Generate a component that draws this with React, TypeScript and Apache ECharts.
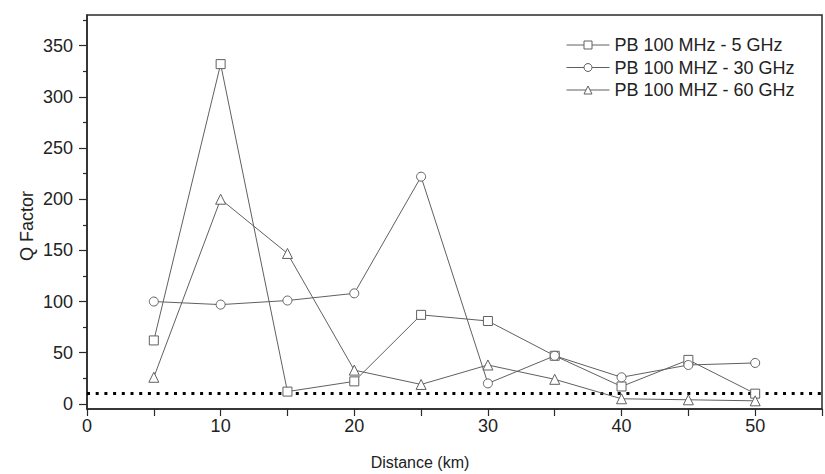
import React, { useEffect, useRef } from "react";
import * as echarts from "echarts";

const distances = [5, 10, 15, 20, 25, 30, 35, 40, 45, 50];
const q5GHz = [62, 332, 12, 22, 87, 81, 47, 17, 43, 10];
const q30GHz = [100, 97, 101, 108, 222, 20, 47, 26, 38, 40];
const q60GHz = [26, 200, 147, 33, 19, 38, 24, 5, 4, 3];
const seriesNames = ["PB 100 MHz - 5 GHz", "PB 100 MHZ - 30 GHz", "PB 100 MHZ - 60 GHz"];
const yMajorTicks = [0, 50, 100, 150, 200, 250, 300, 350];
const yMinorTicks = [25, 75, 125, 175, 225, 275, 325, 375];
const thresholdQ = 10;

const FONT = "'Liberation Sans', Arial, sans-serif";
const LINE = "#606060";
const AXIS = "#2a2a2a";

export default function App() {
  const ref = useRef<HTMLDivElement>(null);
  useEffect(() => {
    if (!ref.current) return;
    const chart = echarts.init(ref.current, null, { renderer: "svg" });
    const mk = (name: string, vals: number[], symbol: string, size: number) => ({
      name,
      type: "line",
      data: distances.map((d, i) => [d, vals[i]]),
      symbol,
      symbolSize: size,
      showAllSymbol: true,
      lineStyle: { color: LINE, width: 1 },
      itemStyle: { color: "#ffffff", borderColor: LINE, borderWidth: 1 },
      emphasis: { disabled: true },
      z: 3,
    });
    const s0: any = mk(seriesNames[0], q5GHz, "rect", 9);
    s0.markLine = {
      silent: true,
      symbol: ["none", "none"],
      label: { show: false },
      lineStyle: { color: "#000", type: [3, 5.7], width: 3, cap: "butt" },
      data: [{ yAxis: thresholdQ }],
      z: 2,
    };
    chart.setOption({
      animation: false,
      textStyle: { fontFamily: FONT },
      grid: {
        left: 87,
        top: 15,
        right: -16,
        bottom: 65,
        show: true,
        borderColor: AXIS,
        borderWidth: 1.5,
        backgroundColor: "transparent",
      },
      legend: {
        orient: "vertical",
        left: 566,
        top: 36,
        padding: 0,
        itemWidth: 43,
        itemHeight: 10,
        itemGap: 4.5,
        lineStyle: { color: LINE, width: 1 },
        itemStyle: { color: "#ffffff", borderColor: LINE, borderWidth: 1 },
        textStyle: { fontSize: 18, lineHeight: 18, color: "#222", fontFamily: FONT },
        data: seriesNames,
      },
      xAxis: {
        type: "value",
        min: 0,
        max: 55,
        interval: 5,
        axisLine: { show: true, onZero: false, lineStyle: { color: AXIS, width: 1.5 } },
        axisTick: { show: true, inside: false, length: 7, lineStyle: { color: AXIS, width: 1.2 } },
        axisLabel: {
          fontSize: 18,
          color: "#222",
          margin: 8,
          formatter: (v: number) => (v % 10 === 0 && v <= 50 ? String(v) : ""),
        },
        splitLine: { show: false },
      },
      yAxis: [
        {
          type: "value",
          min: -5,
          max: 380,
          axisLine: { show: true, onZero: false, lineStyle: { color: AXIS, width: 1.5 } },
          axisTick: {
            show: true,
            inside: false,
            length: 8,
            customValues: yMajorTicks,
            lineStyle: { color: AXIS, width: 1.2 },
          },
          axisLabel: { fontSize: 18, color: "#222", margin: 14, customValues: yMajorTicks },
          splitLine: { show: false },
        },
        {
          type: "value",
          min: -5,
          max: 380,
          position: "left",
          axisLine: { show: false, onZero: false },
          axisTick: {
            show: true,
            inside: false,
            length: 4,
            customValues: yMinorTicks,
            lineStyle: { color: AXIS, width: 1.2 },
          },
          axisLabel: { show: false },
          splitLine: { show: false },
        },
      ],
      graphic: [
        {
          type: "text",
          x: 420,
          y: 462,
          style: {
            text: "Distance (km)",
            font: `16px ${FONT}`,
            fill: "#222",
            textAlign: "center",
            textVerticalAlign: "middle",
          },
        },
        {
          type: "text",
          x: 27,
          y: 226,
          rotation: Math.PI / 2,
          style: {
            text: "Q Factor",
            font: `18px ${FONT}`,
            fill: "#222",
            textAlign: "center",
            textVerticalAlign: "middle",
          },
        },
      ],
      series: [s0, mk(seriesNames[1], q30GHz, "circle", 9), mk(seriesNames[2], q60GHz, "triangle", 10)],
    });
    return () => chart.dispose();
  }, []);
  return (
    <div
      ref={ref}
      style={{ position: "absolute", left: 0, top: 0, width: 825, height: 474, background: "#fff" }}
    />
  );
}
